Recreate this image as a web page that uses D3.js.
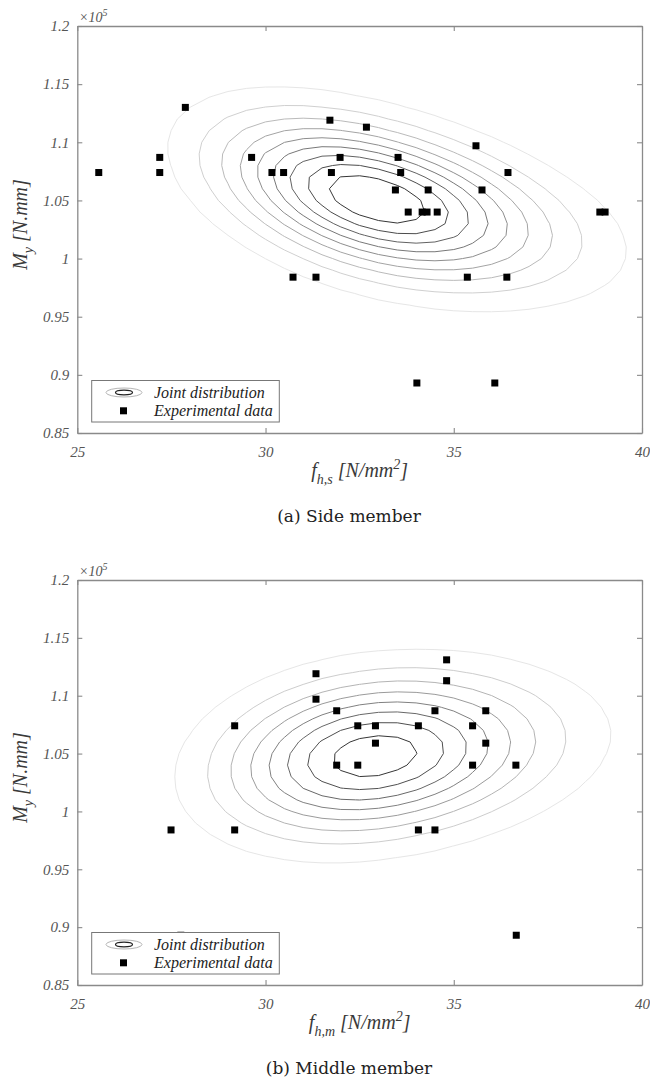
<!DOCTYPE html>
<html>
<head>
<meta charset="utf-8">
<script src="https://cdn.jsdelivr.net/npm/d3@7"></script>
<style>
body { margin: 0; background: #fff; }
svg { display: block; }
</style>
</head>
<body>
<svg id="fig" width="650" height="1091"></svg>
<script>
var xTicks = [25, 30, 35, 40];
var yTicks = [0.85, 0.9, 0.95, 1, 1.05, 1.1, 1.15, 1.2];
var yTickLabels = ["0.85", "0.9", "0.95", "1", "1.05", "1.1", "1.15", "1.2"];

// (a) side member: f_h,s [N/mm2] and M_y [x10^5 N.mm]
var sideF = [25.57, 27.19, 27.19, 27.87, 29.63, 30.17, 30.48, 31.71, 31.98, 31.75,
	32.68, 33.52, 33.59, 33.45, 34.32, 33.79, 34.16, 34.29, 34.56, 35.59,
	36.44, 35.75, 38.88, 39.02, 30.73, 31.34, 35.36, 36.41, 34.02, 36.09];
var sideM = [1.074, 1.087, 1.074, 1.130, 1.087, 1.074, 1.074, 1.119, 1.087, 1.074,
	1.113, 1.087, 1.074, 1.059, 1.059, 1.040, 1.040, 1.040, 1.040, 1.097,
	1.074, 1.059, 1.040, 1.040, 0.984, 0.984, 0.984, 0.984, 0.893, 0.893];

// (b) middle member: f_h,m [N/mm2] and M_y [x10^5 N.mm]
var middleF = [31.34, 34.81, 34.81, 31.34, 31.89, 34.50, 35.85, 29.18, 32.45, 32.92,
	34.06, 35.50, 32.92, 35.85, 31.89, 32.45, 35.50, 36.65, 27.49, 29.18,
	34.06, 34.50, 36.66, 27.75];
var middleM = [1.119, 1.131, 1.113, 1.097, 1.087, 1.087, 1.087, 1.074, 1.074, 1.074,
	1.074, 1.074, 1.059, 1.059, 1.040, 1.040, 1.040, 1.040, 0.984, 0.984,
	0.984, 0.984, 0.893, 0.893];

// joint distribution: [mean ln f, sd ln f, mean M, sd M, correlation]
var sideDist = [3.4946, 0.0856, 1.051, 0.0449, -0.46];
var middleDist = [3.4928, 0.0841, 1.048, 0.0443, 0.2];
// contour levels as fraction of the peak density
var sideLevels = [0.1, 0.2, 0.3, 0.4, 0.5, 0.6, 0.7, 0.8, 0.9];
var middleLevels = [0.115, 0.23, 0.345, 0.46, 0.575, 0.69, 0.805, 0.92];

var svg = d3.select("#fig");
svg.append("rect").attr("width", 650).attr("height", 1091).attr("fill", "#fff");

var left = 77.3, right = 642;
var axisColor = "#8a8a8a";
var labelColor = "#555";
var serif = "'Liberation Serif', 'Times New Roman', serif";

function panel(top, bottom, fData, mData, dist, levels, sub, caption, captionY){
	var g = svg.append("g");

	var x = d3.scaleLinear()
		.domain([25, 40])
		.range([left, right]);

	var y = d3.scaleLinear()
		.domain([0.85, 1.2])
		.range([bottom, top]);

	// density grid, coarse like the original
	var nx = 31, ny = 36, sx = 0.5, sy = 0.01;
	var values = new Array(nx * ny);
	for(var j = 0; j < ny; j++){
		for(var i = 0; i < nx; i++){
			var f = 25 + i * sx, m = 1.2 - j * sy;
			var u = (Math.log(f) - dist[0]) / dist[1];
			var v = (m - dist[2]) / dist[3];
			var r = dist[4];
			values[j * nx + i] = Math.exp(-(u * u - 2 * r * u * v + v * v) / (2 * (1 - r * r)));
		}
	}

	var contours = d3.contours()
		.size([nx, ny])
		.thresholds(levels)(values);

	var proj = d3.geoTransform({
		point: function(gx, gy){
			this.stream.point(x(25 + (gx - 0.5) * sx), y(1.2 - (gy - 0.5) * sy));
		}
	});

	var shade = d3.interpolateRgb("#e6e6e6", "#363636");

	g.append("g")
		.selectAll("path")
		.data(contours)
		.enter().append("path")
		.attr("d", d3.geoPath(proj))
		.attr("fill", "none")
		.attr("stroke", function(d, i){ return shade(i / (levels.length - 1)); })
		.attr("stroke-width", 1);

	// experimental data
	g.append("g")
		.selectAll("rect")
		.data(fData)
		.enter().append("rect")
		.attr("x", function(d){ return x(d) - 3.5; })
		.attr("y", function(d, i){ return y(mData[i]) - 3.5; })
		.attr("width", 7)
		.attr("height", 7)
		.attr("fill", "#000");

	// legend
	var ly = bottom - 52.5;
	var leg = g.append("g").style("font-family", serif);
	leg.append("rect")
		.attr("x", 91.7)
		.attr("y", ly)
		.attr("width", 187.6)
		.attr("height", 41.5)
		.attr("fill", "#fff")
		.attr("stroke", "#777")
		.attr("stroke-width", 1);
	leg.append("ellipse")
		.attr("cx", 124).attr("cy", ly + 12)
		.attr("rx", 18).attr("ry", 4.5)
		.attr("fill", "none").attr("stroke", "#b5b5b5").attr("stroke-width", 1);
	leg.append("ellipse")
		.attr("cx", 124).attr("cy", ly + 12)
		.attr("rx", 8.5).attr("ry", 2.3)
		.attr("fill", "none").attr("stroke", "#222").attr("stroke-width", 1.2);
	leg.append("rect")
		.attr("x", 120).attr("y", ly + 26.8)
		.attr("width", 7).attr("height", 7)
		.attr("fill", "#000");
	leg.append("text")
		.attr("x", 154).attr("y", ly + 17)
		.attr("font-size", 16).attr("font-style", "italic").attr("fill", "#222")
		.text("Joint distribution");
	leg.append("text")
		.attr("x", 154).attr("y", ly + 35.5)
		.attr("font-size", 16).attr("font-style", "italic").attr("fill", "#222")
		.text("Experimental data");

	// axes, ticks inward
	var ax = g.append("g");
	ax.append("g")
		.attr("transform", "translate(0," + bottom + ")")
		.call(d3.axisBottom(x).tickValues(xTicks).tickSize(-5).tickSizeOuter(0).tickPadding(13));
	ax.append("g")
		.attr("transform", "translate(0," + top + ")")
		.call(d3.axisTop(x).tickValues(xTicks).tickSize(-5).tickSizeOuter(0).tickFormat(""));
	ax.append("g")
		.attr("transform", "translate(" + left + ",0)")
		.call(d3.axisLeft(y).tickValues(yTicks).tickSize(-5).tickSizeOuter(0).tickPadding(8)
			.tickFormat(function(d, i){ return yTickLabels[i]; }));
	ax.append("g")
		.attr("transform", "translate(" + right + ",0)")
		.call(d3.axisRight(y).tickValues(yTicks).tickSize(-5).tickSizeOuter(0).tickFormat(""));

	ax.selectAll(".domain").attr("stroke", axisColor).attr("stroke-width", 1.3);
	ax.selectAll(".tick line").attr("stroke", axisColor).attr("stroke-width", 1.1);
	ax.selectAll(".tick text")
		.attr("fill", labelColor)
		.style("font-family", serif)
		.attr("font-style", "italic")
		.attr("font-size", 15);

	// exponent
	var ex = g.append("text")
		.attr("x", 79).attr("y", top - 4)
		.style("font-family", serif)
		.attr("font-size", 14).attr("font-style", "italic").attr("fill", labelColor);
	ex.append("tspan").text("\u00d710");
	ex.append("tspan").attr("dy", -6).attr("font-size", 10).text("5");

	// y label
	var yl = g.append("text")
		.attr("transform", "translate(27," + ((top + bottom) / 2 - 5) + ") rotate(-90)")
		.attr("text-anchor", "middle")
		.style("font-family", serif)
		.attr("font-size", 20).attr("font-style", "italic").attr("fill", "#3a3a3a");
	yl.append("tspan").text("M");
	yl.append("tspan").attr("dy", 6).attr("font-size", 14).text("y");
	yl.append("tspan").attr("dy", -6).text(" [N.mm]");

	// x label
	var xl = g.append("text")
		.attr("x", (left + right) / 2).attr("y", bottom + 44)
		.attr("text-anchor", "middle")
		.style("font-family", serif)
		.attr("font-size", 20).attr("font-style", "italic").attr("fill", "#3a3a3a");
	xl.append("tspan").text("f");
	xl.append("tspan").attr("dy", 7).attr("font-size", 14).text(sub);
	xl.append("tspan").attr("dy", -7).text(" [N/mm");
	xl.append("tspan").attr("dy", -8).attr("font-size", 14).text("2");
	xl.append("tspan").attr("dy", 8).text("]");

	// caption
	g.append("text")
		.attr("x", 349).attr("y", captionY)
		.attr("text-anchor", "middle")
		.style("font-family", "'DejaVu Serif', serif")
		.attr("font-size", 17).attr("fill", "#222")
		.text(caption);
}

panel(26, 433, sideF, sideM, sideDist, sideLevels, "h,s", "(a) Side member", 522);
panel(580, 985, middleF, middleM, middleDist, middleLevels, "h,m", "(b) Middle member", 1074);
</script>
</body>
</html>
